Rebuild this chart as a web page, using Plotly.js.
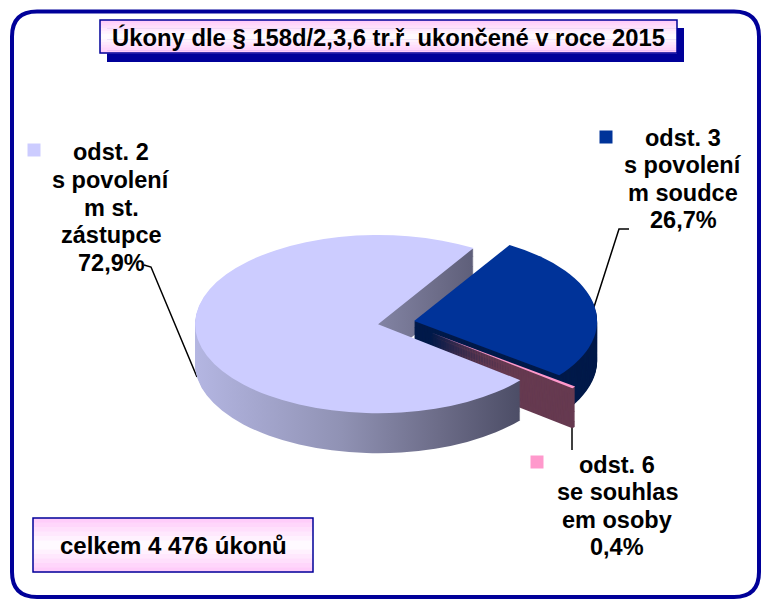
<!DOCTYPE html>
<html>
<head>
<meta charset="utf-8">
<script src="https://cdn.plot.ly/plotly-3.0.1.min.js"></script>
<style>
html,body{margin:0;padding:0;background:#fff;}
#chart{width:761px;height:601px;}
</style>
</head>
<body>
<div id="chart"></div>
<script>
// ---- data ----
const chartTitle = 'Úkony dle § 158d/2,3,6 tr.ř. ukončené v roce 2015';
const categories = ['odst. 2 s povolením st. zástupce', 'odst. 3 s povolením soudce', 'odst. 6 se souhlasem osoby'];
const labelLines = [
  ['odst. 2', 's povolení', 'm st.', 'zástupce'],
  ['odst. 3', 's povolení', 'm soudce'],
  ['odst. 6', 'se souhlas', 'em osoby']
];
const shares = [72.9, 26.7, 0.4];
const totalText = 'celkem 4 476 úkonů';

// ---- styles ----
const W = 761, H = 601;
const topColors = ['#ccccff', '#003399', '#ff99cc'];
const sideColors = ['#8a8aa8', '#001a4a', '#663a50'];
const pulls = [0.141, 0.059, 0.185];
const navy = '#000099';
const FONT = 'Liberation Sans, Arial, sans-serif';

const px = x => x / W;
const py = y => 1 - y / H;

// pie geometry (unsquashed), squashed afterwards to an ellipse
const R = 183;
const maxPull = Math.max.apply(null, pulls);
const HALF = R * (1 + maxPull);
const CX = 403.5, Y0 = 260, DEPTH = 82, STEP = 2;
const SQ = 0.487, CY_SCREEN = 322;

function pieTrace(d, colors, isTop) {
  const cy = Y0 + d;
  return {
    type: 'pie',
    labels: categories,
    values: shares,
    sort: false,
    direction: 'clockwise',
    rotation: 129,
    pull: pulls,
    textinfo: 'none',
    hoverinfo: isTop ? 'label+percent' : 'skip',
    marker: {colors: colors, line: {width: 0}},
    domain: {x: [px(CX - HALF), px(CX + HALF)], y: [py(cy + HALF), py(cy - HALF)]},
    showlegend: false
  };
}

const traces = [];
for (let d = DEPTH; d >= STEP; d -= STEP) traces.push(pieTrace(d, sideColors, false));
traces.push(pieTrace(0, topColors, true));

const shapes = [];
const annotations = [];

// outer rounded frame
(function () {
  const l = 12, t = 11.5, r = 759, b = 597, Rr = 25;
  const P = (x, y) => px(x) + ',' + py(y);
  const path = 'M ' + P(l, b - Rr) + ' L ' + P(l, t + Rr) + ' Q ' + P(l, t) + ' ' + P(l + Rr, t) +
    ' L ' + P(r - Rr, t) + ' Q ' + P(r, t) + ' ' + P(r, t + Rr) +
    ' L ' + P(r, b - Rr) + ' Q ' + P(r, b) + ' ' + P(r - Rr, b) +
    ' L ' + P(l + Rr, b) + ' Q ' + P(l, b) + ' ' + P(l, b - Rr) + ' Z';
  shapes.push({type: 'path', xref: 'paper', yref: 'paper', path: path, line: {color: navy, width: 4}, fillcolor: 'rgba(0,0,0,0)', layer: 'below'});
})();

// gradient box helper (pink - white - pink)
function gradBox(x0, y0, x1, y1, shadow) {
  if (shadow) {
    shapes.push({type: 'rect', xref: 'paper', yref: 'paper', x0: px(x0 + 7), x1: px(x1 + 7), y0: py(y1 + 9), y1: py(y0 + 8),
      fillcolor: navy, line: {width: 0}, layer: 'below'});
  }
  const n = 12;
  for (let i = 0; i < n; i++) {
    const t = (i + 0.5) / n;
    const k = Math.abs(t - 0.5) * 2;
    const g = Math.round(255 - (255 - 200) * k);
    const col = 'rgb(255,' + g + ',' + Math.round(255 - 5 * k) + ')';
    const ya = y0 + (y1 - y0) * i / n, yb = y0 + (y1 - y0) * (i + 1) / n + 0.5;
    shapes.push({type: 'rect', xref: 'paper', yref: 'paper', x0: px(x0), x1: px(x1), y0: py(yb), y1: py(ya),
      fillcolor: col, line: {width: 0}, layer: 'below'});
  }
  shapes.push({type: 'rect', xref: 'paper', yref: 'paper', x0: px(x0), x1: px(x1), y0: py(y1), y1: py(y0),
    fillcolor: 'rgba(0,0,0,0)', line: {color: navy, width: 1.5}, layer: 'below'});
}
gradBox(100, 20, 677, 53, true);
gradBox(33, 518, 313, 572, false);

annotations.push({xref: 'paper', yref: 'paper', x: px(173), y: py(545), xanchor: 'center', yanchor: 'middle',
  text: totalText, showarrow: false, font: {family: FONT, size: 24, color: '#000', weight: 'bold'}});

// labels (one annotation per line for tight line spacing)
const pct = v => v.toFixed(1).replace('.', ',') + '%';
const labelPos = [[111, 207.5], [683, 179], [617, 506]];
const markerPos = [[34, 150], [606, 137], [537, 462]];
const LINE = 27.6;
for (let i = 0; i < categories.length; i++) {
  const lines = labelLines[i].concat([pct(shares[i])]);
  const y0 = labelPos[i][1] - LINE * (lines.length - 1) / 2;
  lines.forEach((txt, j) => {
    annotations.push({xref: 'paper', yref: 'paper', x: px(labelPos[i][0]), y: py(y0 + j * LINE),
      xanchor: 'center', yanchor: 'middle', showarrow: false, align: 'center', text: txt,
      font: {family: FONT, size: 23.5, color: '#000', weight: 'bold'}});
  });
  const m = markerPos[i], s = 6.5;
  shapes.push({type: 'rect', xref: 'paper', yref: 'paper', x0: px(m[0] - s), x1: px(m[0] + s), y0: py(m[1] + s), y1: py(m[1] - s),
    fillcolor: topColors[i], line: {width: 0}, layer: 'below'});
}

// leader lines
function poly(pts) {
  return 'M ' + pts.map(p => px(p[0]) + ',' + py(p[1])).join(' L ');
}
[[[144, 265], [151, 267], [197, 377]],
 [[629, 229], [619, 229], [594, 307]],
 [[572, 427], [572, 450]]].forEach(pts => {
  shapes.push({type: 'path', xref: 'paper', yref: 'paper', path: poly(pts), line: {color: '#000', width: 1.5}, layer: 'below'});
});

const layout = {
  width: W, height: H,
  margin: {l: 0, r: 0, t: 0, b: 0},
  paper_bgcolor: '#ffffff',
  showlegend: false,
  title: {text: chartTitle, x: px(388.5), xanchor: 'center', y: py(38), yanchor: 'middle',
    font: {family: FONT, size: 23.8, color: '#000', weight: 'bold'}},
  shapes: shapes,
  annotations: annotations
};

Plotly.newPlot('chart', traces, layout, {displayModeBar: false, staticPlot: true}).then(function (gd) {
  const layer = gd.querySelector('.pielayer');
  if (layer) {
    layer.setAttribute('transform', 'translate(0,' + CY_SCREEN + ') scale(1,' + SQ + ') translate(0,' + (-Y0) + ')');
  }
  // horizontal shading on the side wall of the large slice
  const svg = gd.querySelector('svg.main-svg');
  let defs = svg.querySelector('defs');
  if (!defs) { defs = document.createElementNS('http://www.w3.org/2000/svg', 'defs'); svg.insertBefore(defs, svg.firstChild); }
  const grad = document.createElementNS('http://www.w3.org/2000/svg', 'linearGradient');
  grad.setAttribute('id', 'sideGrad');
  grad.setAttribute('x1', '0'); grad.setAttribute('x2', '1'); grad.setAttribute('y1', '0'); grad.setAttribute('y2', '0');
  [['0', '#b4b6e2'], ['0.45', '#9092b4'], ['0.75', '#6c6c88'], ['1', '#4c4d66']].forEach(s => {
    const st = document.createElementNS('http://www.w3.org/2000/svg', 'stop');
    st.setAttribute('offset', s[0]); st.setAttribute('stop-color', s[1]);
    grad.appendChild(st);
  });
  defs.appendChild(grad);
  const tr = gd.querySelectorAll('.pielayer .trace');
  for (let i = 0; i < tr.length - 1; i++) {
    const p = tr[i].querySelector('.slice path.surface');
    if (p) p.style.fill = 'url(#sideGrad)';
  }
});
</script>
</body>
</html>
